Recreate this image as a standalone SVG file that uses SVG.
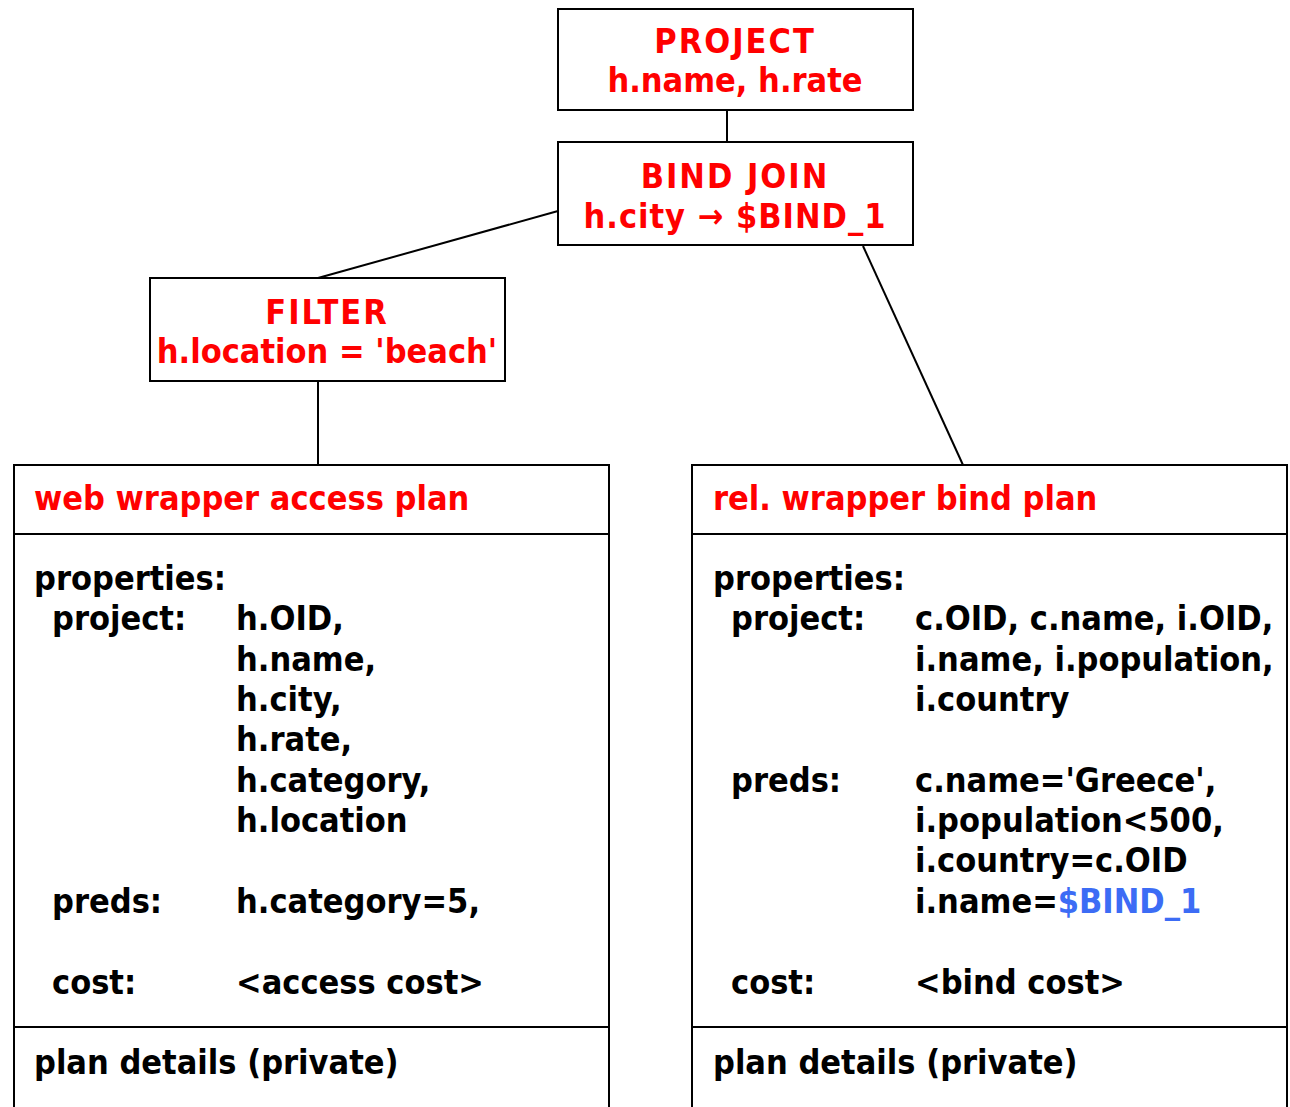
<svg xmlns="http://www.w3.org/2000/svg" width="1290" height="1107" viewBox="0 0 1290 1107">
<style>
.box{fill:#fff;stroke:#000;stroke-width:2}
.ln{stroke:#000;stroke-width:2;fill:none}
text{font-family:"DejaVu Sans Condensed","DejaVu Sans","Liberation Sans",sans-serif;font-weight:bold;font-size:34px;font-stretch:condensed}
.r{fill:#ff0000}
.k{fill:#000}
.b{fill:#3c6cf5}
.c{text-anchor:middle}
.up{letter-spacing:2px}
</style>
<rect width="1290" height="1107" fill="#fff"/>
<g id="connectors">
<line class="ln" x1="727" y1="110" x2="727" y2="142"/>
<line class="ln" x1="558" y1="211" x2="318" y2="278"/>
<line class="ln" x1="318" y1="381" x2="318" y2="465"/>
<line class="ln" x1="863" y1="246" x2="963" y2="465"/>
</g>
<g id="project">
<rect class="box" x="558" y="9" width="355" height="101"/>
<text class="r c up" x="735" y="53">PROJECT</text>
<text class="r c" x="735" y="92">h.name, h.rate</text>
</g>
<g id="bindjoin">
<rect class="box" x="558" y="142" width="355" height="103"/>
<text class="r c up" x="735" y="188">BIND JOIN</text>
<text class="r c" x="735" y="228" letter-spacing="1">h.city → $BIND_1</text>
</g>
<g id="filter">
<rect class="box" x="150" y="278" width="355" height="103"/>
<text class="r c up" x="327" y="324">FILTER</text>
<text class="r c" x="327" y="363">h.location = 'beach'</text>
</g>
<g id="webplan">
<rect class="box" x="14" y="465" width="595" height="650"/>
<line class="ln" x1="14" y1="534" x2="609" y2="534"/>
<line class="ln" x1="14" y1="1027" x2="609" y2="1027"/>
<text class="r" x="34" y="510">web wrapper access plan</text>
<text class="k" x="34" y="590">properties:</text>
<text class="k" x="52" y="630">project:</text>
<text class="k" x="236" y="630">h.OID,</text>
<text class="k" x="236" y="671">h.name,</text>
<text class="k" x="236" y="711">h.city,</text>
<text class="k" x="236" y="751">h.rate,</text>
<text class="k" x="236" y="792">h.category,</text>
<text class="k" x="236" y="832">h.location</text>
<text class="k" x="52" y="913">preds:</text>
<text class="k" x="236" y="913">h.category=5,</text>
<text class="k" x="52" y="994">cost:</text>
<text class="k" x="236" y="994">&lt;access cost&gt;</text>
<text class="k" x="34" y="1074">plan details (private)</text>
</g>
<g id="relplan">
<rect class="box" x="692" y="465" width="595" height="650"/>
<line class="ln" x1="692" y1="534" x2="1287" y2="534"/>
<line class="ln" x1="692" y1="1027" x2="1287" y2="1027"/>
<text class="r" x="713" y="510">rel. wrapper bind plan</text>
<text class="k" x="713" y="590">properties:</text>
<text class="k" x="731" y="630">project:</text>
<text class="k" x="915" y="630">c.OID, c.name, i.OID,</text>
<text class="k" x="915" y="671">i.name, i.population,</text>
<text class="k" x="915" y="711">i.country</text>
<text class="k" x="731" y="792">preds:</text>
<text class="k" x="915" y="792">c.name='Greece',</text>
<text class="k" x="915" y="832">i.population&lt;500,</text>
<text class="k" x="915" y="872">i.country=c.OID</text>
<text class="k" x="915" y="913">i.name=<tspan class="b">$BIND_1</tspan></text>
<text class="k" x="731" y="994">cost:</text>
<text class="k" x="915" y="994">&lt;bind cost&gt;</text>
<text class="k" x="713" y="1074">plan details (private)</text>
</g>
</svg>
